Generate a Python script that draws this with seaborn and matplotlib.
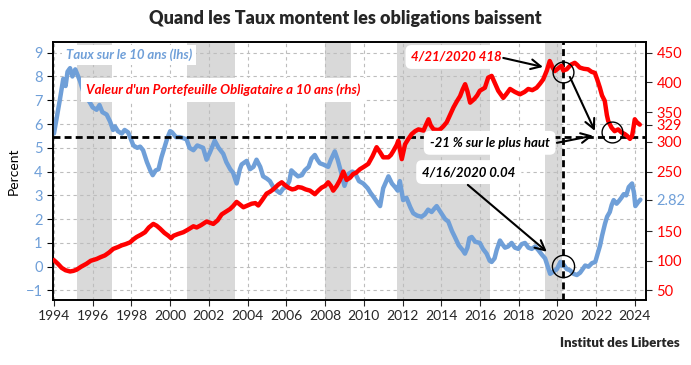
import numpy as np
import pandas as pd
import seaborn as sns
import matplotlib
matplotlib.use('Agg')
import matplotlib.pyplot as plt

# 10 year rate (lhs)
rate_years = [1994.0, 1994.15, 1994.3, 1994.48, 1994.6, 1994.7, 1994.83, 1994.95, 1995.1, 1995.25,
              1995.35, 1995.5, 1995.7, 1995.86, 1996.0, 1996.2, 1996.35, 1996.5, 1996.72, 1996.9,
              1997.05, 1997.15, 1997.3, 1997.5, 1997.65, 1997.83, 1998.0, 1998.1, 1998.3, 1998.45,
              1998.6, 1998.8, 1999.0, 1999.1, 1999.25, 1999.4, 1999.55, 1999.7, 1999.85, 2000.0,
              2000.1, 2000.3, 2000.5, 2000.7, 2000.85, 2001.0, 2001.2, 2001.4, 2001.55, 2001.7,
              2001.88, 2002.05, 2002.3, 2002.5, 2002.74, 2002.9, 2003.1, 2003.25, 2003.43, 2003.6,
              2003.69, 2003.95, 2004.12, 2004.3, 2004.46, 2004.65, 2004.8, 2005.0, 2005.15, 2005.32,
              2005.5, 2005.67, 2005.85, 2006.0, 2006.15, 2006.26, 2006.45, 2006.6, 2006.8, 2006.95,
              2007.15, 2007.3, 2007.47, 2007.6, 2007.73, 2007.9, 2008.16, 2008.3, 2008.5, 2008.65,
              2008.85, 2009.0, 2009.2, 2009.4, 2009.54, 2009.75, 2009.97, 2010.2, 2010.35, 2010.49,
              2010.7, 2010.84, 2011.0, 2011.27, 2011.45, 2011.61, 2011.75, 2011.86, 2012.03, 2012.2,
              2012.4, 2012.55, 2012.75, 2012.98, 2013.15, 2013.32, 2013.5, 2013.65, 2013.76, 2014.0,
              2014.2, 2014.36, 2014.55, 2014.7, 2014.9, 2015.1, 2015.22, 2015.35, 2015.45, 2015.57,
              2015.75, 2015.99, 2016.15, 2016.34, 2016.5, 2016.6, 2016.75, 2016.86, 2017.03, 2017.15,
              2017.29, 2017.45, 2017.63, 2017.8, 2017.98, 2018.15, 2018.32, 2018.5, 2018.67, 2018.85,
              2019.01, 2019.2, 2019.36, 2019.5, 2019.62, 2019.8, 2019.97, 2020.15, 2020.22, 2020.3,
              2020.48, 2020.65, 2020.83, 2021.0, 2021.17, 2021.3, 2021.43, 2021.6, 2021.78, 2021.95,
              2022.04, 2022.2, 2022.3, 2022.45, 2022.56, 2022.7, 2022.8, 2022.9, 2023.05, 2023.16,
              2023.3, 2023.42, 2023.55, 2023.68, 2023.85, 2023.95, 2024.02, 2024.15, 2024.28]
rate = [5.6, 6.3, 7.0, 7.9, 7.6, 8.2, 8.35, 8.0, 8.3, 8.0,
        7.8, 7.4, 7.1, 6.9, 6.7, 6.6, 6.8, 6.5, 6.4, 6.1,
        5.75, 5.9, 5.7, 5.6, 5.75, 5.65, 5.3, 5.1, 5.0, 5.05,
        4.9, 4.4, 4.0, 3.85, 4.05, 4.1, 4.6, 5.0, 5.4, 5.7,
        5.65, 5.45, 5.45, 5.4, 5.35, 5.0, 4.9, 5.1, 5.05, 5.0,
        4.5, 4.8, 5.3, 5.0, 4.75, 4.4, 4.1, 3.95, 3.5, 4.1,
        4.3, 4.45, 4.1, 4.2, 4.5, 4.2, 3.8, 3.7, 3.6, 3.35,
        3.2, 3.1, 3.3, 3.35, 3.6, 4.05, 3.9, 3.8, 3.85, 4.05,
        4.2, 4.55, 4.7, 4.5, 4.35, 4.3, 4.2, 4.5, 4.85, 4.5,
        3.9, 3.4, 3.9, 4.0, 3.95, 3.6, 3.5, 3.3, 3.1, 2.95,
        2.7, 2.55, 3.3, 3.8, 3.5, 3.35, 3.2, 3.6, 2.8, 2.9,
        2.5, 2.25, 2.15, 2.1, 2.2, 2.4, 2.3, 2.45, 2.55, 2.25,
        2.0, 1.9, 1.5, 1.25, 0.9, 0.7, 0.55, 0.8, 1.2, 1.25,
        1.05, 1.0, 0.75, 0.55, 0.25, 0.2, 0.35, 0.7, 1.1, 0.95,
        0.8, 0.85, 1.0, 0.8, 0.75, 0.95, 1.0, 0.8, 0.75, 0.85,
        0.7, 0.5, 0.35, 0.0, -0.3, -0.2, -0.1, 0.2, 0.05, 0.1,
        -0.1, -0.15, -0.3, -0.35, -0.25, -0.1, 0.05, 0.0, 0.15, 0.2,
        0.45, 0.9, 1.3, 1.8, 2.1, 2.3, 2.6, 2.8, 2.65, 2.75,
        2.9, 3.05, 3.0, 3.35, 3.5, 3.1, 2.55, 2.7, 2.82]

# 10 year bond portfolio value (rhs)
value_years = [1994.0, 1994.2, 1994.4, 1994.6, 1994.83, 1995.0, 1995.17, 1995.4, 1995.68, 1995.9,
               1996.2, 1996.4, 1996.63, 1996.85, 1997.06, 1997.3, 1997.5, 1997.7, 1997.93, 1998.1,
               1998.27, 1998.5, 1998.7, 1998.9, 1999.13, 1999.3, 1999.48, 1999.7, 1999.91, 2000.05,
               2000.17, 2000.4, 2000.68, 2000.9, 2001.2, 2001.37, 2001.6, 2001.88, 2002.05, 2002.23,
               2002.45, 2002.66, 2002.9, 2003.09, 2003.25, 2003.43, 2003.55, 2003.78, 2004.0, 2004.21,
               2004.4, 2004.55, 2004.75, 2004.98, 2005.15, 2005.32, 2005.58, 2005.76, 2005.9, 2006.1,
               2006.3, 2006.45, 2006.6, 2006.79, 2007.0, 2007.22, 2007.47, 2007.65, 2007.82, 2008.0,
               2008.16, 2008.3, 2008.42, 2008.6, 2008.77, 2008.94, 2009.11, 2009.3, 2009.45, 2009.6,
               2009.8, 2010.0, 2010.23, 2010.45, 2010.66, 2010.85, 2011.0, 2011.27, 2011.4, 2011.53,
               2011.7, 2011.78, 2011.96, 2012.13, 2012.3, 2012.47, 2012.65, 2012.82, 2013.08, 2013.2,
               2013.34, 2013.45, 2013.6, 2013.8, 2013.94, 2014.1, 2014.28, 2014.45, 2014.63, 2014.8,
               2014.97, 2015.1, 2015.23, 2015.35, 2015.49, 2015.7, 2015.85, 2015.99, 2016.25, 2016.42,
               2016.6, 2016.75, 2016.94, 2017.2, 2017.35, 2017.55, 2017.8, 2018.06, 2018.3, 2018.49,
               2018.7, 2018.92, 2019.1, 2019.26, 2019.45, 2019.6, 2019.75, 2019.86, 2020.05, 2020.2,
               2020.3, 2020.47, 2020.7, 2020.89, 2021.0, 2021.15, 2021.35, 2021.58, 2021.75, 2021.93,
               2022.05, 2022.19, 2022.3, 2022.44, 2022.55, 2022.62, 2022.79, 2022.95, 2023.13, 2023.3,
               2023.48, 2023.6, 2023.74, 2023.85, 2023.9, 2023.99, 2024.1, 2024.25]
value = [101, 95, 88, 84, 82, 83, 85, 90, 95, 100,
         103, 106, 109, 114, 120, 123, 126, 128, 131, 136,
         140, 144, 148, 156, 162, 159, 154, 147, 142, 138,
         142, 145, 148, 152, 158, 156, 160, 166, 164, 162,
         168, 178, 183, 187, 192, 199, 196, 190, 193, 196,
         197, 193, 202, 213, 216, 220, 228, 232, 228, 223,
         220, 221, 224, 223, 220, 218, 212, 218, 223, 226,
         232, 226, 218, 226, 236, 250, 236, 240, 246, 248,
         254, 258, 263, 276, 291, 282, 274, 274, 278, 285,
         295, 302, 271, 296, 305, 313, 318, 321, 319, 328,
         338, 328, 321, 320, 321, 326, 333, 345, 358, 368,
         377, 388, 397, 385, 366, 372, 378, 386, 391, 408,
         411, 400, 386, 374, 380, 389, 384, 380, 384, 389,
         387, 391, 398, 405, 420, 436, 425, 419, 424, 428,
         420, 422, 430, 433, 430, 425, 423, 422, 418, 416,
         405, 391, 378, 369, 345, 335, 324, 318, 321, 316,
         313, 310, 305, 310, 319, 338, 333, 329]

# shaded periods
shade_start = [1995.2, 2000.87, 2008.0, 2011.7, 2019.33]
shade_end = [1997.0, 2003.33, 2009.33, 2016.5, 2020.22]

right_ticks = [50, 100, 150, 250, 300, 350, 400, 450]
year_ticks = list(range(1994, 2025, 2))

peak_date, peak_value = 2020.30, 418
low_date, low_rate = 2020.29, 0.04

blue = '#6f9fd8'
red = '#ff0000'


def to_right(v):
    # left axis percent -> right axis value
    return 50 + (v + 1) * 40


sns.set_style('white')
plt.rcParams['font.family'] = ['Lato', 'DejaVu Sans']

fig = plt.figure(figsize=(6.91, 3.65), dpi=100)
ax = fig.add_axes([53 / 691, 65 / 365, 593 / 691, 258 / 365])
ax2 = ax.twinx()

for s, e in zip(shade_start, shade_end):
    ax.axvspan(s, e, color='#d9d9d9', lw=0, zorder=0)

ax.grid(True, color='#bdbdbd', ls=(0, (3, 3)), lw=0.8)
ax.set_axisbelow(True)

sns.lineplot(x=rate_years, y=rate, ax=ax, color=blue, lw=3.2, sort=False, zorder=3)
sns.lineplot(x=value_years, y=value, ax=ax2, color=red, lw=3.2, sort=False, zorder=3)

ax.set_xlim(1993.95, 2024.57)
ax.set_ylim(-1.4, 9.45)
ax2.set_ylim(to_right(-1.4), to_right(9.45))

ax.axhline(5.47, color='black', lw=2, ls=(0, (2.5, 1.5)), zorder=4)
ax.axvline(2020.26, color='black', lw=2, ls=(0, (2.5, 1.5)), zorder=4)

ax.set_xticks(year_ticks)
ax.set_xticklabels([str(y) for y in year_ticks], fontsize=10)
ax.set_yticks(range(-1, 10))
ax.tick_params(axis='y', colors='black', labelcolor=blue, labelsize=10.5, length=4, direction='out', left=True)
ax.tick_params(axis='x', length=4, direction='out', bottom=True)
ax.set_ylabel('Percent', fontsize=10, color='black')

last_value = value[-1]
last_rate = rate[-1]
r_ticks = right_ticks + [last_value, to_right(last_rate)]
ax2.set_yticks(r_ticks)
ax2.set_yticklabels([str(t) for t in right_ticks] + [str(last_value), f'{last_rate:.2f}'])
ax2.tick_params(axis='y', labelsize=10.5, length=4, direction='out', right=True)
for lab in ax2.get_yticklabels():
    lab.set_color(red)
ax2.get_yticklabels()[-1].set_color(blue)

for a in (ax, ax2):
    for sp in a.spines.values():
        sp.set_color('black')
        sp.set_linewidth(1.2)

# labels and annotations
tr = ax.transData
ax2.text(1997.87, 8.9, 'Taux sur le 10 ans (lhs)', transform=tr, color=blue, fontsize=9.5,
         fontweight='bold', style='italic', ha='center', va='center', zorder=10,
         bbox=dict(boxstyle='square,pad=0.3', fc='white', ec='none'))
ax2.text(2002.75, 7.43, "Valeur d'un Portefeuille Obligataire a 10 ans (rhs)", transform=tr, color=red,
         fontsize=9.5, fontweight='bold', style='italic', ha='center', va='center', zorder=10,
         bbox=dict(boxstyle='square,pad=0.4', fc='white', ec='none'))

rbox = dict(boxstyle='round,pad=0.45', fc='white', ec='none')
arrow = dict(arrowstyle='->,head_length=0.7,head_width=0.35', color='black', lw=1.5, shrinkA=0, shrinkB=0)

ax2.text(2014.8, 8.82, '4/21/2020 418', transform=tr, color=red, fontsize=9.5, fontweight='bold',
         style='italic', ha='center', va='center', zorder=10, bbox=rbox)
ax2.annotate('', xy=(2019.25, 8.4), xytext=(2017.2, 8.78), xycoords=tr, textcoords=tr,
             arrowprops=arrow, zorder=10)

ax2.text(2016.5, 5.21, '-21 % sur le plus haut', transform=tr, color='black', fontsize=9.5,
         fontweight='bold', style='italic', ha='center', va='center', zorder=10, bbox=rbox)
ax2.annotate('', xy=(2021.83, 5.51), xytext=(2019.97, 5.21), xycoords=tr, textcoords=tr,
             arrowprops=arrow, zorder=10)

ax2.text(2015.42, 3.98, '4/16/2020 0.04', transform=tr, color='black', fontsize=9.5,
         fontweight='bold', style='italic', ha='center', va='center', zorder=10, bbox=rbox)
ax2.annotate('', xy=(2019.45, 0.63), xytext=(2015.37, 3.44), xycoords=tr, textcoords=tr,
             arrowprops=arrow, zorder=10)

ax2.annotate('', xy=(2021.93, 5.71), xytext=(2020.64, 7.98), xycoords=tr, textcoords=tr,
             arrowprops=arrow, zorder=10)

ax2.plot([peak_date], [peak_value], marker='o', ms=15, mfc='none', mec='black', mew=1, zorder=11)
ax2.plot([2022.79], [316], marker='o', ms=15, mfc='none', mec='black', mew=1, zorder=11)
ax.plot([low_date], [low_rate], marker='o', ms=16, mfc='none', mec='black', mew=1, zorder=11)

fig.text(0.5, 0.95, 'Quand les Taux montent les obligations baissent', ha='center', va='center',
         fontsize=13, fontweight='heavy')
fig.text(0.984, 0.06, 'Institut des Libertes', ha='right', va='center', fontsize=9.5, fontweight='heavy')

fig.savefig('out.png', dpi=100)
